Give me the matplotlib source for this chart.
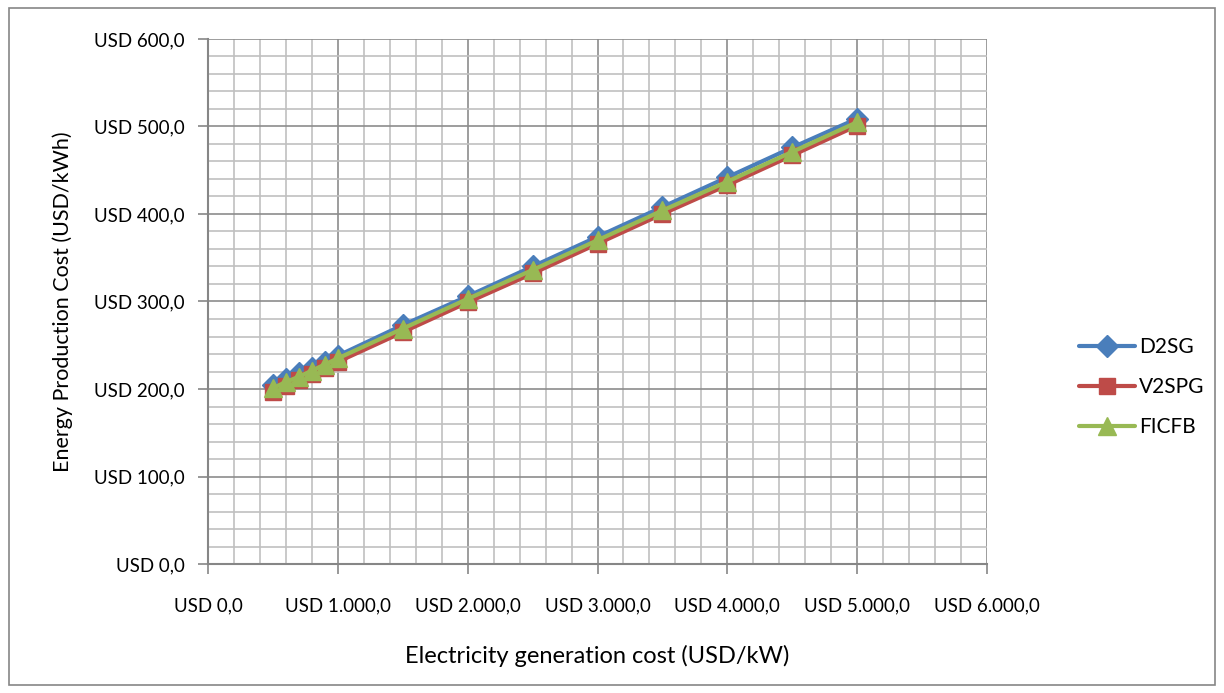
import matplotlib
matplotlib.use('Agg')
import matplotlib.pyplot as plt
from matplotlib.ticker import MultipleLocator, FuncFormatter
from matplotlib.patches import Rectangle

plt.rcParams['font.family'] = ['Lato', 'DejaVu Sans']

# electricity generation cost (USD/kW)
elec_cost = [500, 600, 700, 800, 900, 1000, 1500, 2000, 2500, 3000, 3500, 4000, 4500, 5000]
# energy production cost (USD/kWh)
d2sg = [205, 211, 218, 224, 231, 238, 273, 306, 340, 374, 408, 442, 476, 509]
v2spg = [197, 204, 210, 217, 224, 231, 265, 299, 332, 366, 400, 433, 467, 501]
ficfb = [201, 208, 214, 221, 228, 235, 269, 303, 336, 370, 404, 437, 471, 505]

series = [('D2SG', d2sg, '#4A7EBB', 'D', 11),
          ('V2SPG', v2spg, '#BE4B48', 's', 12),
          ('FICFB', ficfb, '#98B954', '^', 13)]


def usd(v, pos):
    s = f'{v:,.1f}'
    s = s.replace(',', 'X').replace('.', ',').replace('X', '.')
    return 'USD ' + s


fig = plt.figure(figsize=(12.24, 6.93), dpi=100)
fig.patches.append(Rectangle((9 / 1224, 8 / 693), 1206 / 1224, 677 / 693,
                             transform=fig.transFigure, fill=False,
                             edgecolor='#868686', linewidth=1.2))
ax = fig.add_axes([208 / 1224, 129 / 693, 779 / 1224, 525 / 693])

for name, vals, col, mk, ms in series:
    ax.plot(elec_cost, vals, color=col, lw=3, marker=mk, markersize=ms,
            label=name, zorder=3, solid_capstyle='round')

ax.set_xlim(0, 6000)
ax.set_ylim(0, 600)
ax.xaxis.set_major_locator(MultipleLocator(1000))
ax.xaxis.set_minor_locator(MultipleLocator(200))
ax.yaxis.set_major_locator(MultipleLocator(100))
ax.yaxis.set_minor_locator(MultipleLocator(20))
ax.xaxis.set_major_formatter(FuncFormatter(usd))
ax.yaxis.set_major_formatter(FuncFormatter(usd))

ax.grid(which='minor', color='#C0C0C0', lw=1.2)
ax.grid(which='major', color='#8C8C8C', lw=1.2)
ax.set_axisbelow(True)

for side in ['top', 'right']:
    ax.spines[side].set_visible(False)
for side in ['left', 'bottom']:
    ax.spines[side].set_color('#868686')
    ax.spines[side].set_linewidth(1.5)

ax.tick_params(which='major', length=7, width=1.2, color='#868686',
               labelsize=13.5)
ax.tick_params(axis='y', pad=10)
ax.tick_params(axis='x', pad=17)
ax.tick_params(which='minor', length=0)

ax.set_xlabel('Electricity generation cost (USD/kW)', fontsize=17, labelpad=22)
ax.set_ylabel('Energy Production Cost (USD/kWh)', fontsize=15.5, labelpad=15)

ax.legend(loc='center left', bbox_to_anchor=(1.094, 0.337), frameon=False,
          fontsize=15, handlelength=2.7, labelspacing=0.95, handletextpad=0.2)

fig.savefig('out.png', dpi=100)
